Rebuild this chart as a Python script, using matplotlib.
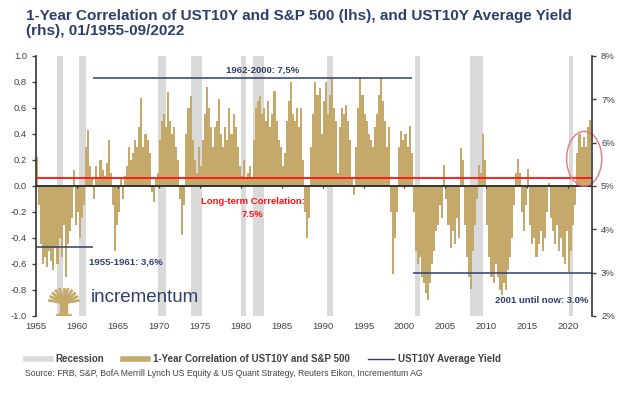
import numpy as np
import matplotlib.pyplot as plt
from matplotlib.lines import Line2D
from matplotlib.patches import Ellipse

plt.rcParams['font.family'] = ['Liberation Sans', 'DejaVu Sans']

# 1-year correlation UST10Y vs S&P 500, quarterly 1955Q1 - 2022Q3
corr = [
    0.22, -0.15, -0.45, -0.60,   # 1955
    -0.55, -0.62, -0.50, -0.58,  # 1956
    -0.65, -0.48, -0.60, -0.40,  # 1957
    -0.55, -0.30, -0.70, -0.45,  # 1958
    -0.35, -0.25, 0.12, -0.30,   # 1959
    -0.20, -0.40, -0.25, -0.15,  # 1960
    0.30, 0.43, 0.15, 0.05,      # 1961
    -0.10, 0.15, 0.05, 0.20,     # 1962
    0.12, 0.08, 0.18, 0.35,      # 1963
    0.10, -0.15, -0.50, -0.30,   # 1964
    -0.20, 0.05, -0.10, 0.08,    # 1965
    0.15, 0.30, 0.20, 0.25,      # 1966
    0.35, 0.30, 0.45, 0.68,      # 1967
    0.30, 0.40, 0.35, 0.25,      # 1968
    -0.05, -0.12, 0.05, 0.10,    # 1969
    0.35, 0.50, 0.55, 0.45,      # 1970
    0.72, 0.50, 0.40, 0.45,      # 1971
    0.30, 0.20, -0.10, -0.38,    # 1972
    -0.15, 0.40, 0.60, 0.69,     # 1973
    0.35, 0.20, 0.10, 0.30,      # 1974
    0.15, 0.35, 0.55, 0.76,      # 1975
    0.60, 0.45, 0.30, 0.45,      # 1976
    0.50, 0.67, 0.40, 0.30,      # 1977
    0.45, 0.35, 0.60, 0.40,      # 1978
    0.55, 0.45, 0.30, 0.15,      # 1979
    0.08, 0.20, 0.05, 0.10,      # 1980
    0.15, 0.05, 0.35, 0.60,      # 1981
    0.65, 0.69, 0.55, 0.60,      # 1982
    0.50, 0.65, 0.45, 0.55,      # 1983
    0.73, 0.50, 0.35, 0.30,      # 1984
    0.15, 0.25, 0.50, 0.65,      # 1985
    0.80, 0.55, 0.50, 0.60,      # 1986
    0.45, 0.60, 0.20, -0.20,     # 1987
    -0.40, -0.25, 0.30, 0.55,    # 1988
    0.80, 0.70, 0.75, 0.40,      # 1989
    0.65, 0.80, 0.55, 0.70,      # 1990
    0.82, 0.60, 0.50, 0.10,      # 1991
    0.45, 0.60, 0.55, 0.62,      # 1992
    0.50, 0.35, 0.05, -0.07,     # 1993
    0.30, 0.60, 0.84, 0.70,      # 1994
    0.55, 0.50, 0.40, 0.35,      # 1995
    0.30, 0.45, 0.55, 0.70,      # 1996
    0.83, 0.65, 0.50, 0.30,      # 1997
    0.45, -0.20, -0.68, -0.40,   # 1998
    -0.20, 0.30, 0.42, 0.35,     # 1999
    0.40, 0.30, 0.46, 0.25,      # 2000
    -0.20, -0.50, -0.60, -0.55,  # 2001
    -0.70, -0.75, -0.82, -0.88,  # 2002
    -0.75, -0.60, -0.50, -0.35,  # 2003
    -0.30, -0.15, -0.25, 0.16,   # 2004
    -0.10, -0.30, -0.48, -0.35,  # 2005
    -0.45, -0.25, -0.40, 0.29,   # 2006
    0.20, -0.30, -0.55, -0.70,   # 2007
    -0.79, -0.50, -0.30, -0.10,  # 2008
    0.16, 0.10, 0.40, 0.20,      # 2009
    -0.30, -0.55, -0.70, -0.75,  # 2010
    -0.60, -0.70, -0.80, -0.84,  # 2011
    -0.75, -0.80, -0.65, -0.55,  # 2012
    -0.40, -0.15, 0.10, 0.21,    # 2013
    0.10, -0.20, -0.35, -0.15,   # 2014
    0.13, -0.30, -0.45, -0.40,   # 2015
    -0.55, -0.45, -0.35, -0.50,  # 2016
    -0.40, -0.20, 0.02, -0.25,   # 2017
    -0.35, -0.45, -0.30, -0.50,  # 2018
    -0.40, -0.55, -0.60, -0.35,  # 2019
    -0.66, -0.50, -0.30, -0.15,  # 2020
    0.25, 0.40, 0.30, 0.38,      # 2021
    0.30, 0.45, 0.51,            # 2022
]
start_year = 1955

# US recessions (NBER), as decimal years
rec_start = [1957.6, 1960.3, 1969.9, 1973.9, 1980.0, 1981.55, 1990.57, 2001.3, 2007.95, 2020.15]
rec_end = [1958.3, 1961.1, 1970.85, 1975.3, 1980.6, 1982.85, 1991.3, 2001.95, 2009.6, 2020.55]

# average UST10Y yield per regime
avg_from = [1955, 1962, 2001]
avg_to = [1961.9, 2000.9, 2022.9]
avg_yield = [3.6, 7.5, 3.0]
avg_labels = ['1955-1961: 3,6%', '1962-2000: 7,5%', '2001 until now: 3.0%']

long_term_corr = 0.06

gold = '#C4A96B'
navy = '#2E3F6E'
grey_txt = '#404040'
rec_col = '#DADADA'

fig = plt.figure(figsize=(6.25, 3.94), dpi=100)
ax = fig.add_axes([0.0576, 0.198, 0.8896, 0.66])
ax2 = ax.twinx()

x = start_year + np.arange(len(corr)) * 0.25 + 0.125

for s, e in zip(rec_start, rec_end):
    ax.axvspan(s, e, color=rec_col, lw=0, zorder=0)
ax.bar(x, corr, width=0.25, color=gold, lw=0, zorder=2)
ax.axhline(0, color='#333333', lw=1.4, zorder=3)
ax.axhline(long_term_corr, color='#FF1010', lw=1.3, zorder=4)

xt = np.arange(1955, 2021, 5)
ax.vlines(xt, -0.018, 0, color='#333333', lw=0.9, zorder=3)

ax.set_xlim(1955, 2022.9)
ax.set_ylim(-1, 1)
ax.set_xticks(xt)
ax.set_yticks(np.arange(-1, 1.01, 0.2))
ax.yaxis.set_major_formatter(plt.FuncFormatter(lambda v, p: f'{round(v, 1) + 0.0:.1f}'))
ax.tick_params(axis='x', length=0, labelsize=6.8, colors=grey_txt, pad=4)
ax.tick_params(axis='y', length=3, width=1, labelsize=6.8, colors=grey_txt, direction='out')
for sp in ['top', 'right', 'bottom']:
    ax.spines[sp].set_visible(False)
ax.spines['left'].set_color('#333333')
ax.spines['left'].set_linewidth(1.2)

for f, t, y in zip(avg_from, avg_to, avg_yield):
    ax2.hlines(y, f, t, color=navy, lw=1.1)
ax2.set_ylim(2, 8)
ax2.set_yticks(range(2, 9))
ax2.yaxis.set_major_formatter(plt.FuncFormatter(lambda v, p: f'{v:.0f}%'))
ax2.tick_params(axis='y', length=3, width=1, labelsize=6.8, colors=grey_txt, direction='out')
for sp in ['top', 'left', 'bottom']:
    ax2.spines[sp].set_visible(False)
ax2.spines['right'].set_color('#333333')
ax2.spines['right'].set_linewidth(1.2)

# annotations
ax2.text(1982.7, avg_yield[1] + 0.08, avg_labels[1], color=navy, fontsize=6.8,
         fontweight='bold', ha='center', va='bottom')
ax2.text(1961.5, avg_yield[0] - 0.25, avg_labels[0], color=navy, fontsize=6.8,
         fontweight='bold', ha='left', va='top')
ax2.text(2022.4, 2.35, avg_labels[2], color=navy, fontsize=6.8,
         fontweight='bold', ha='right', va='center')
ax.text(1981.5, -0.17, 'Long-term Correlation:\n7.5%', color='#FF1010', fontsize=6.8,
        fontweight='bold', ha='center', va='center', linespacing=1.5)

ell = Ellipse((2021.95, 0.21), 4.3, 0.42, fill=False, ec='#E8777A', lw=1.0,
              clip_on=False, zorder=5)
ax.add_patch(ell)

# logo: text plus a rough gold tree
ax.text(0.098, 0.07, 'incrementum', transform=ax.transAxes, color=navy,
        fontsize=13.5, ha='left', va='center')
tree_x = 0.05
ax.plot([tree_x, tree_x], [0.0, 0.06], transform=ax.transAxes, color=gold,
        lw=6, solid_capstyle='butt', zorder=6)
ax.plot([tree_x - 0.012, tree_x + 0.012], [0.002, 0.002], transform=ax.transAxes,
        color=gold, lw=2, zorder=6)
for ang in np.linspace(10, 170, 11):
    r = np.radians(ang)
    ax.plot([tree_x, tree_x + 0.026 * np.cos(r)], [0.05, 0.05 + 0.055 * np.sin(r)],
            transform=ax.transAxes, color=gold, lw=2, zorder=6)

ax.set_zorder(1)
ax.patch.set_visible(False)
ax2.set_zorder(2)

fig.text(0.0416, 0.978, '1-Year Correlation of UST10Y and S&P 500 (lhs), and UST10Y Average Yield\n(rhs), 01/1955-09/2022',
         color=navy, fontsize=11, fontweight='bold', ha='left', va='top', linespacing=1.1)

handles = [Line2D([], [], color=rec_col, lw=4),
           Line2D([], [], color=gold, lw=4),
           Line2D([], [], color=navy, lw=1)]
labels = ['Recession', '1-Year Correlation of UST10Y and S&P 500', 'UST10Y Average Yield']
fig.legend(handles, labels, loc='center', bbox_to_anchor=(0.4216, 0.089), ncol=3,
           frameon=False, handlelength=2.6, columnspacing=1.9, handletextpad=0.5,
           prop={'weight': 'bold', 'size': 7}, labelcolor=grey_txt)

fig.text(0.04, 0.053, 'Source: FRB, S&P, BofA Merrill Lynch US Equity & US Quant Strategy, Reuters Eikon, Incrementum AG',
         color=grey_txt, fontsize=6.2, ha='left', va='center')

fig.savefig('out.png', dpi=100)
